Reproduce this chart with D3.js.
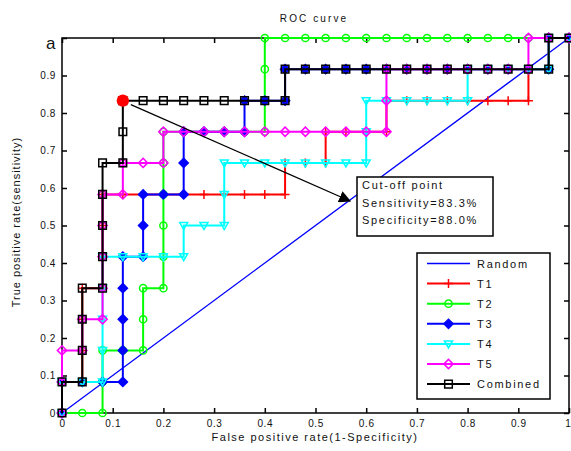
<!DOCTYPE html>
<html>
<head>
<meta charset="utf-8">
<script src="https://cdn.jsdelivr.net/npm/d3@7"></script>
<style>
body { margin: 0; background: #fff; }
text { font-family: "Liberation Sans", Arial, sans-serif; fill: #111; }
</style>
</head>
<body>
<svg id="chart" width="571" height="451"></svg>
<script>
// ROC points: [false positive rate, true positive rate]
var random = [[0, 0], [1, 1]];
var t1 = [[0,0],[0,0.083],[0.04,0.083],[0.04,0.167],[0.04,0.25],[0.04,0.333],[0.08,0.333],[0.08,0.417],[0.08,0.5],[0.08,0.583],
  [0.12,0.583],[0.16,0.583],[0.2,0.583],[0.24,0.583],[0.28,0.583],[0.32,0.583],[0.36,0.583],[0.4,0.583],[0.44,0.583],[0.44,0.667],
  [0.48,0.667],[0.52,0.667],[0.52,0.75],[0.56,0.75],[0.6,0.75],[0.64,0.75],[0.64,0.833],[0.68,0.833],[0.72,0.833],[0.76,0.833],
  [0.8,0.833],[0.84,0.833],[0.88,0.833],[0.92,0.833],[0.92,0.917],[0.96,0.917],[0.96,1],[1,1]];
var t2 = [[0,0],[0.04,0],[0.08,0],[0.08,0.083],[0.08,0.167],[0.12,0.167],[0.16,0.167],[0.16,0.25],[0.16,0.333],[0.2,0.333],
  [0.2,0.417],[0.2,0.5],[0.2,0.583],[0.2,0.667],[0.2,0.75],[0.24,0.75],[0.28,0.75],[0.32,0.75],[0.36,0.75],[0.4,0.75],
  [0.4,0.833],[0.4,0.917],[0.4,1],[0.44,1],[0.48,1],[0.52,1],[0.56,1],[0.6,1],[0.64,1],[0.68,1],[0.72,1],[0.76,1],[0.8,1],
  [0.84,1],[0.88,1],[0.92,1],[0.96,1],[1,1]];
var t3 = [[0,0],[0,0.083],[0.04,0.083],[0.08,0.083],[0.12,0.083],[0.12,0.167],[0.12,0.25],[0.12,0.333],[0.12,0.417],[0.16,0.417],
  [0.16,0.5],[0.16,0.583],[0.2,0.583],[0.24,0.583],[0.24,0.667],[0.24,0.75],[0.28,0.75],[0.32,0.75],[0.36,0.75],[0.36,0.833],
  [0.4,0.833],[0.44,0.833],[0.44,0.917],[0.48,0.917],[0.52,0.917],[0.56,0.917],[0.6,0.917],[0.64,0.917],[0.68,0.917],[0.72,0.917],
  [0.76,0.917],[0.8,0.917],[0.84,0.917],[0.88,0.917],[0.92,0.917],[0.96,0.917],[0.96,1],[1,1]];
var t4 = [[0,0],[0,0.083],[0.04,0.083],[0.08,0.083],[0.08,0.167],[0.08,0.25],[0.08,0.333],[0.08,0.417],[0.12,0.417],[0.16,0.417],
  [0.2,0.417],[0.24,0.417],[0.24,0.5],[0.28,0.5],[0.32,0.5],[0.32,0.583],[0.32,0.667],[0.36,0.667],[0.4,0.667],[0.44,0.667],
  [0.48,0.667],[0.52,0.667],[0.56,0.667],[0.6,0.667],[0.6,0.75],[0.6,0.833],[0.64,0.833],[0.68,0.833],[0.72,0.833],[0.76,0.833],
  [0.8,0.833],[0.8,0.917],[0.84,0.917],[0.88,0.917],[0.92,0.917],[0.96,0.917],[0.96,1],[1,1]];
var t5 = [[0,0],[0,0.083],[0,0.167],[0.04,0.167],[0.04,0.25],[0.08,0.25],[0.08,0.333],[0.08,0.417],[0.08,0.5],[0.08,0.583],
  [0.12,0.583],[0.12,0.667],[0.16,0.667],[0.2,0.667],[0.2,0.75],[0.24,0.75],[0.28,0.75],[0.32,0.75],[0.36,0.75],[0.4,0.75],
  [0.44,0.75],[0.48,0.75],[0.52,0.75],[0.56,0.75],[0.6,0.75],[0.64,0.75],[0.64,0.833],[0.64,0.917],[0.68,0.917],[0.72,0.917],
  [0.76,0.917],[0.8,0.917],[0.84,0.917],[0.88,0.917],[0.92,0.917],[0.92,1],[0.96,1],[1,1]];
var combined = [[0,0],[0,0.083],[0.04,0.083],[0.04,0.167],[0.04,0.25],[0.04,0.333],[0.08,0.333],[0.08,0.417],[0.08,0.5],[0.08,0.583],
  [0.08,0.667],[0.12,0.667],[0.12,0.75],[0.12,0.833],[0.16,0.833],[0.2,0.833],[0.24,0.833],[0.28,0.833],[0.32,0.833],[0.36,0.833],
  [0.4,0.833],[0.44,0.833],[0.44,0.917],[0.48,0.917],[0.52,0.917],[0.56,0.917],[0.6,0.917],[0.64,0.917],[0.68,0.917],[0.72,0.917],
  [0.76,0.917],[0.8,0.917],[0.84,0.917],[0.88,0.917],[0.92,0.917],[0.96,0.917],[0.96,1],[1,1]];

var legendNames = ['Random', 'T1', 'T2', 'T3', 'T4', 'T5', 'Combined'];
var xTicks = [0, 0.1, 0.2, 0.3, 0.4, 0.5, 0.6, 0.7, 0.8, 0.9, 1];
var xTickLabels = ['0', '0.1', '0.2', '0.3', '0.4', '0.5', '0.6', '0.7', '0.8', '0.9', '1'];
var yTicks = [0, 0.1, 0.2, 0.3, 0.4, 0.5, 0.6, 0.7, 0.8, 0.9, 1];
var yTickLabels = ['0', '0.1', '0.2', '0.3', '0.4', '0.5', '0.6', '0.7', '0.8', '0.9', ''];
var cutoff = [0.12, 0.833];
var cutoffText = ['Cut-off point', 'Sensitivity=83.3%', 'Specificity=88.0%'];

// styles for each curve, same order as legendNames
var styles = [
  {data: random, color: '#0000ff', marker: null, width: 1.3},
  {data: t1, color: '#ff0000', marker: 'plus', width: 2},
  {data: t2, color: '#00ff00', marker: 'circle', width: 2},
  {data: t3, color: '#0000ff', marker: 'diamond', fill: true, width: 2},
  {data: t4, color: '#00ffff', marker: 'tridown', width: 2},
  {data: t5, color: '#ff00ff', marker: 'diamond', width: 2},
  {data: combined, color: '#000000', marker: 'square', width: 2}
];

var svg = d3.select('#chart');
var x = d3.scaleLinear().domain([0, 1]).range([62, 569]);
var y = d3.scaleLinear().domain([0, 1]).range([413, 38]);

function markerPath(type) {
  if (type === 'plus') return 'M-4.5,0H4.5M0,-4.5V4.5';
  if (type === 'circle') return 'M-3.6,0A3.6,3.6 0 1,0 3.6,0A3.6,3.6 0 1,0 -3.6,0Z';
  if (type === 'diamond') return 'M0,-4.6L4.6,0L0,4.6L-4.6,0Z';
  if (type === 'tridown') return 'M-4,-3L4,-3L0,4Z';
  if (type === 'square') return 'M-3.8,-3.8H3.8V3.8H-3.8Z';
  return '';
}

function drawMarker(g, type, px, py, color, filled) {
  g.append('path')
    .attr('d', markerPath(type))
    .attr('transform', 'translate(' + px + ',' + py + ')')
    .attr('fill', filled ? color : 'none')
    .attr('stroke', color)
    .attr('stroke-width', 1.5);
}

// axes box and ticks (inward, on all four sides like matlab)
svg.append('rect').attr('x', x(0)).attr('y', y(1)).attr('width', x(1) - x(0)).attr('height', y(0) - y(1))
  .attr('fill', '#fff').attr('stroke', '#000').attr('stroke-width', 1.5);

var gx = svg.append('g').attr('transform', 'translate(0,' + y(0) + ')')
  .call(d3.axisBottom(x).tickValues(xTicks).tickFormat(function (d, i) { return xTickLabels[i]; })
    .tickSizeInner(-5).tickSizeOuter(0).tickPadding(7));
var gy = svg.append('g').attr('transform', 'translate(' + x(0) + ',0)')
  .call(d3.axisLeft(y).tickValues(yTicks).tickFormat(function (d, i) { return yTickLabels[i]; })
    .tickSizeInner(-5).tickSizeOuter(0).tickPadding(6));
var gt = svg.append('g').attr('transform', 'translate(0,' + y(1) + ')')
  .call(d3.axisTop(x).tickValues(xTicks).tickFormat('').tickSizeInner(-5).tickSizeOuter(0));
var gr = svg.append('g').attr('transform', 'translate(' + x(1) + ',0)')
  .call(d3.axisRight(y).tickValues(yTicks).tickFormat('').tickSizeInner(-5).tickSizeOuter(0));
[gx, gy, gt, gr].forEach(function (g) {
  g.select('.domain').remove();
  g.selectAll('.tick line').attr('stroke', '#000').attr('stroke-width', 1.5);
  g.selectAll('text').attr('font-size', 10).attr('letter-spacing', 0.6)
    .attr('font-family', '"Liberation Sans", Arial, sans-serif').attr('fill', '#222');
});
// last x label sits on the right edge, keep it inside the page
gx.selectAll('.tick:last-of-type text').attr('text-anchor', 'end').attr('dx', 2);

// curves
var line = d3.line().x(function (d) { return x(d[0]); }).y(function (d) { return y(d[1]); });
var plot = svg.append('g');
styles.forEach(function (s) {
  var g = plot.append('g');
  g.append('path').attr('d', line(s.data)).attr('fill', 'none')
    .attr('stroke', s.color).attr('stroke-width', s.width);
  if (s.marker) {
    s.data.forEach(function (d) {
      drawMarker(g, s.marker, x(d[0]), y(d[1]), s.color, s.fill);
    });
  }
});

// cut-off point + arrow
svg.append('defs').append('marker')
  .attr('id', 'arrow').attr('viewBox', '0 0 10 10').attr('refX', 9).attr('refY', 5)
  .attr('markerWidth', 12).attr('markerHeight', 12).attr('markerUnits', 'userSpaceOnUse')
  .attr('orient', 'auto')
  .append('path').attr('d', 'M0,0L10,5L0,10Z').attr('fill', '#000');

svg.append('line')
  .attr('x1', x(cutoff[0]) + 8).attr('y1', y(cutoff[1]) + 4)
  .attr('x2', 350).attr('y2', 201)
  .attr('stroke', '#000').attr('stroke-width', 1.3).attr('marker-end', 'url(#arrow)');

svg.append('circle').attr('cx', x(cutoff[0])).attr('cy', y(cutoff[1])).attr('r', 6.2).attr('fill', '#ff0000');

// annotation box
svg.append('rect').attr('x', 357).attr('y', 177).attr('width', 136).attr('height', 59)
  .attr('fill', '#fff').attr('stroke', '#000').attr('stroke-width', 1.5);
svg.selectAll('.note').data(cutoffText).enter().append('text')
  .attr('x', 362).attr('y', function (d, i) { return 189 + i * 17.5; })
  .attr('font-size', 11).attr('letter-spacing', 1.7).text(function (d) { return d; });

// legend
var lg = svg.append('g');
lg.append('rect').attr('x', 417).attr('y', 253).attr('width', 133).attr('height', 146)
  .attr('fill', '#fff').attr('stroke', '#000').attr('stroke-width', 1.5);
legendNames.forEach(function (name, i) {
  var ly = 263.5 + i * 20.1;
  var s = styles[i];
  lg.append('line').attr('x1', 427).attr('x2', 470).attr('y1', ly).attr('y2', ly)
    .attr('stroke', s.color).attr('stroke-width', s.width);
  if (s.marker) drawMarker(lg, s.marker, 448.5, ly, s.color, s.fill);
  lg.append('text').attr('x', 477).attr('y', ly + 4).attr('font-size', 11).attr('letter-spacing', 1.7).text(name);
});

// titles
svg.append('text').attr('x', 314).attr('y', 22).attr('text-anchor', 'middle')
  .attr('font-size', 10).attr('letter-spacing', 2.1).text('ROC curve');
svg.append('text').attr('x', 315).attr('y', 441).attr('text-anchor', 'middle')
  .attr('font-size', 11).attr('letter-spacing', 1.5).text('False positive rate(1-Specificity)');
svg.append('text').attr('transform', 'translate(20,222) rotate(-90)').attr('text-anchor', 'middle')
  .attr('font-size', 11).attr('letter-spacing', 1).text('True positive rate(sensitivity)');
// panel letter sitting over the top y tick
svg.append('text').attr('x', 46).attr('y', 49).attr('font-size', 17).text('a');
</script>
</body>
</html>
